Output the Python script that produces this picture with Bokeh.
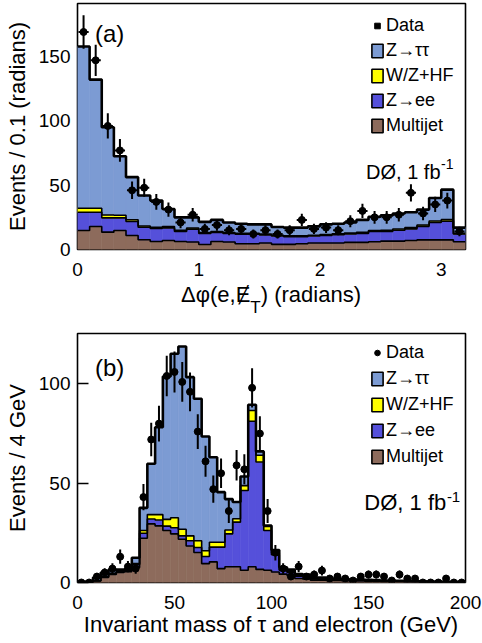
import numpy as np
from bokeh.plotting import figure
from bokeh.models import Range1d, Legend, LegendItem, Label, FixedTicker, Div
from bokeh.layouts import column
from bokeh.embed import file_html
from bokeh.resources import INLINE

# ---------------- panel (a): delta-phi(e, MET), 0.1 rad bins ----------------
dphi_range = (0.0, 3.2)
dphi_nbins = 32
dphi_data = [169, 147, 96, 77, 46, 48, 37, 31, 21, 27, 16, 19, 15, 16, 12, 15,
             12, 15, 23, 16, 17, 15, 22, 30, 25, 25, 27, 44, 28, 35, 38, 14]
dphi_multijet = [14.8, 17.9, 13.5, 14.8, 10.9, 7.6, 6.2, 7.0, 6.2, 5.8, 3.9, 6.2, 5.8, 4.5, 4.5, 5.0,
                 4.0, 4.0, 4.5, 5.0, 5.0, 5.0, 5.5, 5.5, 6.0, 6.5, 6.5, 7.0, 7.5, 7.5, 7.5, 6.0]
dphi_zee = [14.2, 11.1, 11.1, 9.8, 10.9, 9.7, 10.1, 9.8, 7.8, 10.0, 8.5, 7.0, 6.6, 7.4, 7.4, 6.4,
            6.5, 6.0, 5.5, 5.5, 6.0, 6.5, 6.5, 7.0, 8.0, 7.5, 8.5, 9.0, 10.5, 13.5, 14.5, 6.0]
dphi_wzhf = [3.1, 3.1, 2.2, 2.0, 1.3, 1.0, 1.0, 1.0, 0.9, 0.9, 0.8, 0.8, 0.7, 0.7, 0.7, 0.7,
             0.6, 0.6, 0.6, 0.6, 0.7, 0.7, 0.7, 0.8, 0.8, 0.9, 0.9, 1.0, 1.0, 1.2, 1.2, 0.5]
dphi_ztt = [125.6, 99.9, 68.2, 45.9, 33.1, 23.7, 20.7, 13.7, 10.1, 8.3, 8.3, 9.0, 7.9, 7.4, 6.9, 7.4,
            6.4, 6.4, 6.4, 6.9, 7.8, 7.8, 8.3, 9.7, 10.7, 11.6, 12.1, 12.0, 12.0, 17.8, 23.3, 4.5]
dphi_xticks = [0, 1, 2, 3]
dphi_yticks = [0, 50, 100, 150]

# ---------------- panel (b): visible mass of tau + electron, 4 GeV bins ----------------
mass_range = (0.0, 200.0)
mass_nbins = 50
mass_data = [0, 0, 3, 5, 7, 13, 8, 7, 43, 72, 80, 104, 106, 101, 96, 76, 61, 47, 55, 36,
             59, 57, 98, 75, 36, 15, 7, 3, 8, 3, 4, 6, 2, 3, 2, 1, 3, 4, 4, 3,
             1, 4, 2, 2, 0, 0, 0, 2, 0, 0]
mass_multijet = [0.0, 0.2, 0.8, 2.5, 4.0, 5.0, 5.5, 7.5, 22.3, 29.5, 28.5, 26.2, 24.5, 21.8, 18.4, 15.1, 9.5, 10.4, 7.0, 7.9,
                 7.9, 6.2, 7.9, 6.6, 6.2, 5.3, 4.2, 3.6, 2.0, 1.8, 1.2, 1.2, 1.0, 1.0, 0.9, 0.8, 0.8, 0.7, 0.6, 0.5,
                 0.5, 0.5, 0.4, 0.4, 0.3, 0.3, 0.3, 0.2, 0.2, 0.2]
mass_zee = [0.0, 0.0, 0.1, 0.3, 0.5, 0.5, 0.5, 1.5, 2.5, 2.5, 3.0, 2.2, 3.1, 1.7, 2.6, 2.5, 3.6, 7.4, 10.8, 16.6,
            22.5, 40.1, 73.3, 54.1, 20.0, 8.7, 2.0, 1.5, 1.2, 1.0, 0.6, 0.5, 0.4, 0.4, 0.3, 0.3, 0.3, 0.2, 0.2, 0.2,
            0.2, 0.1, 0.1, 0.1, 0.1, 0.1, 0.1, 0.1, 0.1, 0.0]
mass_wzhf = [0.0, 0.0, 0.0, 0.1, 0.1, 0.1, 0.1, 0.5, 1.4, 2.2, 2.7, 3.4, 5.0, 3.3, 2.5, 3.4, 2.9, 2.5, 2.5, 1.9,
             1.7, 2.5, 5.4, 3.4, 2.0, 0.8, 0.4, 0.3, 0.2, 0.2, 0.1, 0.1, 0.1, 0.1, 0.1, 0.0, 0.0, 0.0, 0.0, 0.0,
             0.0, 0.0, 0.0, 0.0, 0.0, 0.0, 0.0, 0.0, 0.0, 0.0]
mass_ztt = [0.3, 0.3, 1.6, 2.1, 1.9, 0.9, 0.6, 3.0, 11.4, 25.6, 44.0, 71.9, 82.6, 92.0, 79.9, 71.5, 57.5, 42.8, 25.2, 15.6,
            8.4, 4.6, 2.9, 1.9, 0.5, 1.6, 1.1, 1.1, 0.9, 1.0, 0.6, 0.7, 0.5, 0.5, 0.5, 0.4, 0.4, 0.4, 0.4, 0.3,
            0.3, 0.3, 0.3, 0.2, 0.2, 0.1, 0.1, 0.1, 0.1, 0.1]
mass_xticks = [0, 50, 100, 150, 200]
mass_yticks = [0, 50, 100]

legend_labels = ["Data", "Z\u2192\u03c4\u03c4", "W/Z+HF", "Z\u2192ee", "Multijet"]

C_ZTT = "#7c9bd3"
C_HF = "#ffff00"
C_ZEE = "#5550da"
C_MJ = "#8d6b5c"
FONT = "Liberation Sans"
NAN = float("nan")


def make_panel(rng, nbins, layers, data, y_end, frame_h, top_border, xticks, yticks,
               data_marker, ytick_len, legend_y, legend_spacing):
    p = figure(frame_width=388, frame_height=frame_h, x_range=Range1d(*rng), y_range=Range1d(0, y_end),
               output_backend="svg", toolbar_location=None, title=None,
               min_border_left=77, min_border_right=17,
               min_border_top=top_border, min_border_bottom=31)
    p.xgrid.visible = False
    p.ygrid.visible = False
    p.outline_line_color = "black"
    p.outline_line_width = 1.6
    p.background_fill_color = "white"
    p.border_fill_color = "white"

    edges = np.linspace(rng[0], rng[1], nbins + 1)
    width = edges[1] - edges[0]
    cum = np.zeros(nbins)
    tops = []
    colors = [C_MJ, C_ZEE, C_HF, C_ZTT]
    for vals, col in zip(layers, colors):
        bottom = cum.copy()
        cum = cum + np.array(vals, dtype=float)
        p.quad(left=edges[:-1], right=edges[1:], bottom=bottom, top=cum,
               fill_color=col, line_color=col, line_width=0.6)
        tops.append(cum.copy())
    for i, t in enumerate(tops):
        lw = 2.6 if i == len(tops) - 1 else 1.6
        p.step(x=edges, y=np.append(t, t[-1]), mode="after", line_color="black", line_width=lw)

    d = np.array(data, dtype=float)
    err = np.sqrt(d)
    centers = 0.5 * (edges[:-1] + edges[1:])
    p.segment(x0=centers, y0=d - err, x1=centers, y1=d + err, line_color="black", line_width=2)
    p.segment(x0=centers - 0.42 * width, y0=d, x1=centers + 0.42 * width, y1=d,
              line_color="black", line_width=2)
    p.scatter(x=centers, y=d, marker="circle", size=7, color="black")

    # legend proxies (NaN position: never drawn in the plot, only in the legend)
    r_data = p.scatter(x=[NAN], y=[NAN], marker=data_marker, size=6, color="black")
    r_boxes = [p.quad(left=[NAN], right=[NAN], bottom=[NAN], top=[NAN], fill_color=c,
                      line_color="black", line_width=1.6) for c in [C_ZTT, C_HF, C_ZEE, C_MJ]]
    items = [LegendItem(label=legend_labels[0], renderers=[r_data])]
    for lab, r in zip(legend_labels[1:], r_boxes):
        items.append(LegendItem(label=lab, renderers=[r]))
    leg = Legend(items=items, location=(293, legend_y), glyph_width=14, glyph_height=17,
                 spacing=legend_spacing, padding=0, margin=0, label_standoff=2,
                 label_text_font=FONT, label_text_font_size="18px", label_text_color="black",
                 border_line_color=None, background_fill_alpha=0)
    p.add_layout(leg)

    for ax in (p.xaxis[0], p.yaxis[0]):
        ax.axis_line_color = None
        ax.major_label_text_font = FONT
        ax.major_label_text_font_size = "19px"
        ax.major_label_text_color = "black"
        ax.axis_label_text_font = FONT
        ax.axis_label_text_font_size = "22px"
        ax.axis_label_text_font_style = "normal"
        ax.axis_label_text_color = "black"
        ax.minor_tick_line_color = None
    p.xaxis.ticker = FixedTicker(ticks=xticks)
    p.yaxis.ticker = FixedTicker(ticks=yticks)
    p.xaxis.major_tick_line_color = None
    p.xaxis.major_label_standoff = 7
    p.yaxis.major_tick_in = ytick_len
    p.yaxis.major_tick_out = 0
    p.yaxis.major_tick_line_width = 1.5
    p.yaxis.major_tick_line_color = "black" if ytick_len > 0 else None
    p.yaxis.major_label_standoff = 7
    p.yaxis.axis_label_standoff = 6
    return p


def axis_title(html, height, pad_top):
    return Div(text=('<div style="width:388px;margin-left:77px;padding-top:%dpx;text-align:center;'
                     'font-family:\'Liberation Sans\';font-size:22px;line-height:24px;color:black;'
                     'white-space:nowrap">%s</div>') % (pad_top, html),
               width=482, height=height, margin=0)


# ---- top panel ----
p1 = make_panel(dphi_range, dphi_nbins, [dphi_multijet, dphi_zee, dphi_wzhf, dphi_ztt], dphi_data,
                246 / 1.287, 246, 3, dphi_xticks, dphi_yticks, "square", 0, 113, 4)
p1.yaxis.axis_label = "Events / 0.1 (radians)"
p1.add_layout(Label(x=0.144, y=167.8, text="(a)", text_font=FONT, text_font_size="24px",
                    text_baseline="alphabetic", text_color="black"))
p1.add_layout(Label(x=2.994, y=60.2, text="D\u00d8, 1 fb", text_font=FONT, text_font_size="20px",
                    text_align="right", text_baseline="alphabetic", text_color="black"))
p1.add_layout(Label(x=2.998, y=66.8, text="-1", text_font=FONT, text_font_size="14px",
                    text_align="left", text_baseline="alphabetic", text_color="black"))

title1 = axis_title('\u0394\u03c6(e,\u0246'
                    '<span style="font-size:17px;position:relative;top:11px">T</span>) (radians)',
                    38, 3)

# ---- bottom panel ----
p2 = make_panel(mass_range, mass_nbins, [mass_multijet, mass_zee, mass_wzhf, mass_ztt], mass_data,
                249 / 1.986, 249, 15, mass_xticks, mass_yticks, "circle", 11, 115, 5)
p2.yaxis.axis_label = "Events / 4 GeV"
p2.add_layout(Label(x=9.0, y=108.3, text="(b)", text_font=FONT, text_font_size="24px",
                    text_baseline="alphabetic", text_color="black"))
p2.add_layout(Label(x=190.1, y=40.4, text="D\u00d8, 1 fb", text_font=FONT, text_font_size="22px",
                    text_align="right", text_baseline="alphabetic", text_color="black"))
p2.add_layout(Label(x=190.4, y=43.0, text="-1", text_font=FONT, text_font_size="15px",
                    text_align="left", text_baseline="alphabetic", text_color="black"))

title2 = axis_title("Invariant mass of \u03c4 and electron (GeV)", 30, 0)

layout = column(p1, title1, p2, title2)
open("out.html", "w").write(file_html(layout, INLINE))
